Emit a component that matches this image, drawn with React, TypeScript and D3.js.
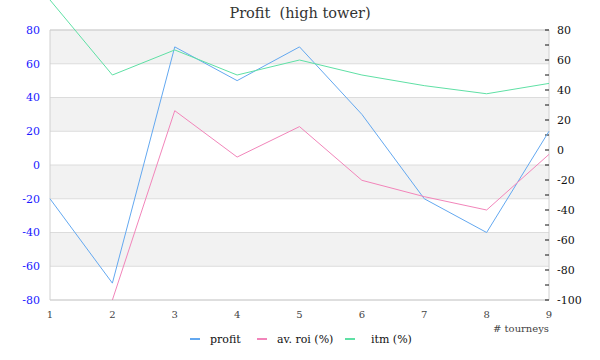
import React from "react";
import * as d3 from "d3";

const title = "Profit  (high tower)";
const xLabel = "# tourneys";
const tourneys = [1, 2, 3, 4, 5, 6, 7, 8, 9];
const profit = [-20, -70, 70, 50, 70, 30, -20, -40, 20];
const avRoi: (number | null)[] = [null, -100, 26.2, -4.7, 15.6, -20.2, -31.1, -40, -2.9];
const itm = [100, 50, 66.7, 50, 60, 50, 42.9, 37.5, 44.4];
const leftTicks = [-80, -60, -40, -20, 0, 20, 40, 60, 80];
const rightTicks = [-100, -80, -60, -40, -20, 0, 20, 40, 60, 80];
const rightMinorTicks = [-90, -70, -50, -30, -10, 10, 30, 50, 70];
const seriesNames = ["profit", "av. roi (%)", "itm (%)"];
const seriesColors = ["#63a8f0", "#f285ba", "#5fe0a5"];

const W = 600;
const H = 360;
const M = { left: 50, right: 549, top: 30, bottom: 300 };
const FONT = "DejaVu Serif";

export default function App() {
  const x = d3.scaleLinear().domain([1, 9]).range([M.left, M.right]);
  const yL = d3.scaleLinear().domain([-80, 80]).range([M.bottom, M.top]);
  const yR = d3.scaleLinear().domain([-100, 80]).range([M.bottom, M.top]);

  const lineL = d3
    .line<number>()
    .x((_, i) => x(tourneys[i]))
    .y((d) => yL(d));
  const lineR = d3
    .line<number | null>()
    .defined((d) => d != null)
    .x((_, i) => x(tourneys[i]))
    .y((d) => yR(d as number));

  const bands = leftTicks.slice(0, -1).map((v, i) => ({ lo: v, hi: leftTicks[i + 1], idx: i }));

  const legendItems = [
    { name: seriesNames[0], color: seriesColors[0], mx: 190, tx: 210 },
    { name: seriesNames[1], color: seriesColors[1], mx: 257, tx: 277 },
    { name: seriesNames[2], color: seriesColors[2], mx: 345, tx: 371 },
  ];

  return (
    <svg width={W} height={H} style={{ position: "absolute", left: 0, top: 0 }}>
      <rect x={0} y={0} width={W} height={H} fill="#fff" />
      {bands.map((b) => (
        <rect
          key={b.lo}
          x={M.left}
          y={yL(b.hi)}
          width={M.right - M.left}
          height={yL(b.lo) - yL(b.hi)}
          fill={(bands.length - 1 - b.idx) % 2 === 0 ? "#f2f2f2" : "#ffffff"}
        />
      ))}
      {leftTicks.map((t) => (
        <line key={t} x1={M.left} x2={M.right} y1={yL(t)} y2={yL(t)} stroke="#dcdcdc" strokeWidth={1} />
      ))}
      <line x1={M.left} x2={M.left} y1={M.top} y2={M.bottom} stroke="#d0d0d0" />
      <line x1={M.right} x2={M.right} y1={M.top} y2={M.bottom} stroke="#d0d0d0" />
      <line x1={M.left} x2={M.right} y1={M.bottom} y2={M.bottom} stroke="#d0d0d0" />
      <line x1={M.left} x2={M.right} y1={M.top} y2={M.top} stroke="#d0d0d0" />

      <g fontFamily={FONT}>
        {leftTicks.map((t) => (
          <text key={t} x={40} y={yL(t)} dy="0.35em" textAnchor="end" fontSize={11} fill="#1a1aff">
            {t}
          </text>
        ))}
        {rightTicks.map((t) => (
          <text key={t} x={557} y={yR(t)} dy="0.35em" textAnchor="start" fontSize={11} fill="#111">
            {t}
          </text>
        ))}
        {tourneys.map((t) => (
          <text key={t} x={x(t)} y={318} textAnchor="middle" fontSize={10} fill="#444">
            {t}
          </text>
        ))}
        <text x={M.right} y={332} textAnchor="end" fontSize={10} fill="#444">
          {xLabel}
        </text>
        <text x={300} y={18} textAnchor="middle" fontSize={14.5} fill="#333" style={{ whiteSpace: "pre" }}>
          {title}
        </text>
        {legendItems.map((l) => (
          <text key={l.name} x={l.tx} y={343} fontSize={11} fill="#111">
            {l.name}
          </text>
        ))}
      </g>
      {rightTicks.concat(rightMinorTicks).map((t) => (
        <line key={t} x1={M.right - 4} x2={M.right} y1={yR(t)} y2={yR(t)} stroke="#111" strokeWidth={1} />
      ))}

      <path d={lineL(profit) || ""} fill="none" stroke={seriesColors[0]} strokeWidth={1} />
      <path d={lineR(avRoi) || ""} fill="none" stroke={seriesColors[1]} strokeWidth={1} />
      <path d={lineR(itm) || ""} fill="none" stroke={seriesColors[2]} strokeWidth={1} />

      {legendItems.map((l) => (
        <line key={l.name} x1={l.mx} x2={l.mx + 10} y1={339} y2={339} stroke={l.color} strokeWidth={2} />
      ))}
    </svg>
  );
}
